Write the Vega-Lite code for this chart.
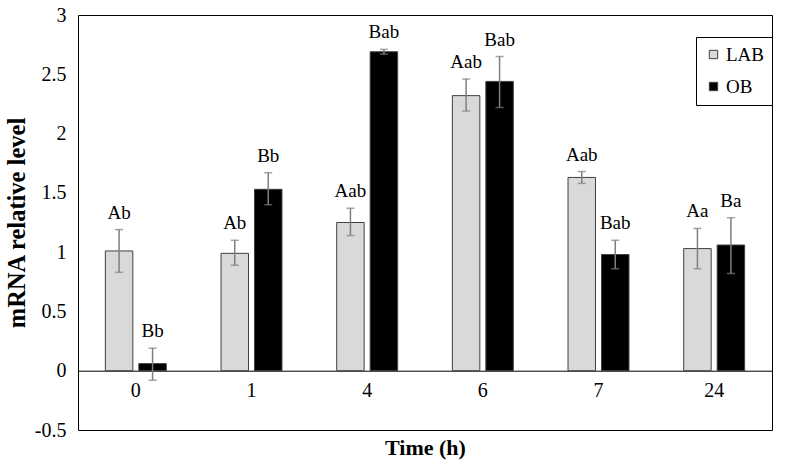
{
  "$schema": "https://vega.github.io/schema/vega-lite/v6.json",
  "width": 694,
  "height": 415,
  "autosize": "none",
  "padding": {"left": 78, "top": 15, "right": 14, "bottom": 39},
  "background": "white",
  "config": {
    "view": {"stroke": "black", "strokeWidth": 1},
    "font": "Liberation Serif"
  },
  "data": {
    "values": [
      {"time": "0", "group": "LAB", "value": 1.01, "lo": 0.83, "hi": 1.19, "label": "Ab"},
      {"time": "0", "group": "OB", "value": 0.06, "lo": -0.08, "hi": 0.19, "label": "Bb"},
      {"time": "1", "group": "LAB", "value": 0.99, "lo": 0.89, "hi": 1.10, "label": "Ab"},
      {"time": "1", "group": "OB", "value": 1.53, "lo": 1.40, "hi": 1.67, "label": "Bb"},
      {"time": "4", "group": "LAB", "value": 1.25, "lo": 1.14, "hi": 1.37, "label": "Aab"},
      {"time": "4", "group": "OB", "value": 2.69, "lo": 2.67, "hi": 2.71, "label": "Bab"},
      {"time": "6", "group": "LAB", "value": 2.32, "lo": 2.19, "hi": 2.46, "label": "Aab"},
      {"time": "6", "group": "OB", "value": 2.44, "lo": 2.22, "hi": 2.65, "label": "Bab"},
      {"time": "7", "group": "LAB", "value": 1.63, "lo": 1.58, "hi": 1.68, "label": "Aab"},
      {"time": "7", "group": "OB", "value": 0.98, "lo": 0.86, "hi": 1.10, "label": "Bab"},
      {"time": "24", "group": "LAB", "value": 1.03, "lo": 0.86, "hi": 1.20, "label": "Aa"},
      {"time": "24", "group": "OB", "value": 1.06, "lo": 0.82, "hi": 1.29, "label": "Ba"}
    ]
  },
  "encoding": {
    "x": {
      "field": "time",
      "type": "nominal",
      "sort": ["0", "1", "4", "6", "7", "24"],
      "scale": {"paddingInner": 0.473, "paddingOuter": 0.2365},
      "axis": {
        "title": "Time (h)",
        "titleFont": "Liberation Serif",
        "titleFontSize": 22,
        "titleFontWeight": "bold",
        "titleColor": "black",
        "titlePadding": 37,
        "labelFont": "Liberation Serif",
        "labelFontSize": 20,
        "labelColor": "black",
        "labelAngle": 0,
        "labelPadding": 10,
        "ticks": false,
        "domainColor": "black",
        "domainWidth": 1,
        "offset": -59.3
      }
    },
    "xOffset": {
      "field": "group",
      "type": "nominal",
      "sort": ["LAB", "OB"],
      "scale": {"paddingInner": 0.179, "paddingOuter": 0}
    }
  },
  "layer": [
    {
      "mark": {"type": "bar", "stroke": "#404040", "strokeWidth": 1},
      "encoding": {
        "y": {
          "field": "value",
          "type": "quantitative",
          "scale": {"domain": [-0.5, 3], "nice": false},
          "axis": {
            "title": "mRNA relative level",
            "titleFont": "Liberation Serif",
            "titleFontSize": 24.5,
            "titleFontWeight": "bold",
            "titleColor": "black",
            "titlePadding": 5,
            "labelFont": "Liberation Serif",
            "labelFontSize": 20,
            "labelColor": "black",
            "labelPadding": 12,
            "values": [-0.5, 0, 0.5, 1, 1.5, 2, 2.5, 3],
            "labelExpr": "'' + datum.value",
            "ticks": false,
            "domain": false,
            "grid": false
          }
        },
        "fill": {
          "field": "group",
          "type": "nominal",
          "sort": ["LAB", "OB"],
          "scale": {"domain": ["LAB", "OB"], "range": ["#d9d9d9", "#000000"]},
          "legend": {
            "title": null,
            "orient": "none",
            "legendX": 618,
            "legendY": 22,
            "strokeColor": "black",
            "padding": 8,
            "symbolType": "square",
            "symbolSize": 70,
            "symbolStrokeColor": "#404040",
            "symbolStrokeWidth": 1,
            "labelFont": "Liberation Serif",
            "labelFontSize": 19,
            "labelColor": "black",
            "rowPadding": 12,
            "labelOffset": 3
          }
        }
      }
    },
    {
      "mark": {"type": "rule", "color": "#7f7f7f", "strokeWidth": 1.5},
      "encoding": {
        "y": {"field": "lo", "type": "quantitative"},
        "y2": {"field": "hi"}
      }
    },
    {
      "mark": {"type": "tick", "color": "#7f7f7f", "size": 8, "thickness": 1.5},
      "encoding": {"y": {"field": "lo", "type": "quantitative"}}
    },
    {
      "mark": {"type": "tick", "color": "#7f7f7f", "size": 8, "thickness": 1.5},
      "encoding": {"y": {"field": "hi", "type": "quantitative"}}
    },
    {
      "mark": {"type": "text", "baseline": "alphabetic", "dy": -11, "fontSize": 19, "font": "Liberation Serif", "color": "black"},
      "encoding": {
        "y": {"field": "hi", "type": "quantitative"},
        "text": {"field": "label", "type": "nominal"}
      }
    }
  ]
}
